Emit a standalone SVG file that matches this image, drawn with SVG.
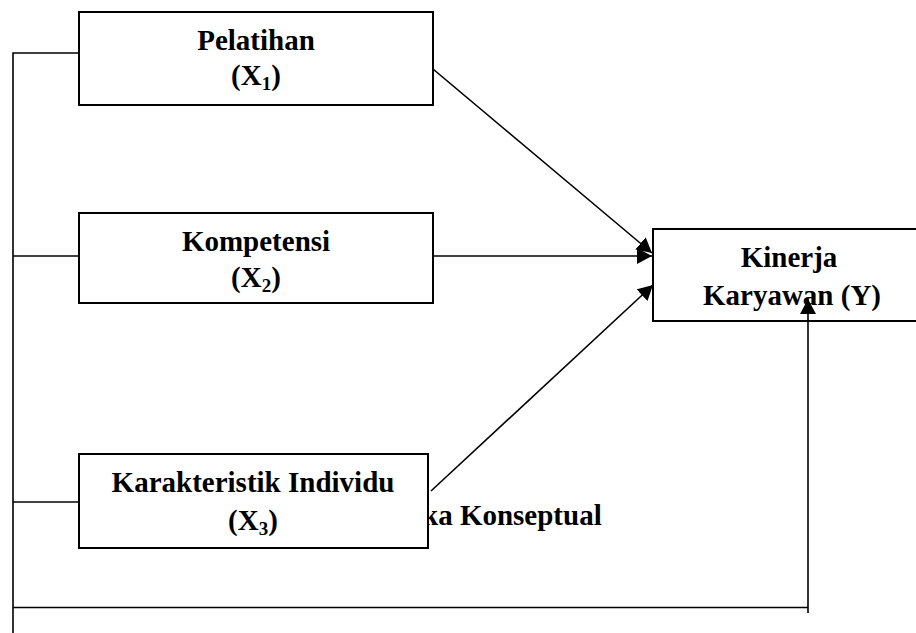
<svg xmlns="http://www.w3.org/2000/svg" width="916" height="633" viewBox="0 0 916 633">
<defs>
<style>
.box{fill:#fff;stroke:#000;stroke-width:2}
.ln{fill:none;stroke:#000;stroke-width:1.6}
.t{font-family:"Liberation Serif","Times New Roman",serif;font-weight:bold;font-size:29px;fill:#000;text-anchor:middle}
.c{font-family:"Liberation Serif","Times New Roman",serif;font-weight:bold;font-size:29px;fill:#000}
.sub{font-size:19px}
</style>
<marker id="ah" markerUnits="userSpaceOnUse" markerWidth="16" markerHeight="16" refX="15" refY="8" orient="auto">
<path d="M0,0 L15,8 L0,16 Z" fill="#000"/>
</marker>
</defs>
<rect width="916" height="633" fill="#fff"/>
<text class="c" x="422" y="525">ka Konseptual</text>
<g id="connectors">
<polyline class="ln" points="79,53 13,53 13,633"/>
<line class="ln" x1="13" y1="256" x2="79" y2="256"/>
<line class="ln" x1="13" y1="502" x2="79" y2="502"/>
<polyline class="ln" points="13,607.5 808,607.5"/>
<line class="ln" x1="433" y1="69" x2="652" y2="253" marker-end="url(#ah)"/>
<line class="ln" x1="433" y1="256" x2="652" y2="256" marker-end="url(#ah)"/>
<line class="ln" x1="431" y1="491" x2="653" y2="285" marker-end="url(#ah)"/>
</g>
<g id="node-pelatihan">
<rect class="box" x="79" y="12" width="354" height="93"/>
<text class="t" x="256" y="50">Pelatihan</text>
<text class="t" x="256" y="85">(X<tspan class="sub" dy="5">1</tspan><tspan dy="-5">)</tspan></text>
</g>
<g id="node-kompetensi">
<rect class="box" x="79" y="213" width="354" height="90"/>
<text class="t" x="256" y="251">Kompetensi</text>
<text class="t" x="256" y="287">(X<tspan class="sub" dy="5">2</tspan><tspan dy="-5">)</tspan></text>
</g>
<g id="node-karakteristik">
<rect class="box" x="79" y="454" width="349" height="94"/>
<text class="t" x="253" y="492">Karakteristik Individu</text>
<text class="t" x="253" y="530">(X<tspan class="sub" dy="5">3</tspan><tspan dy="-5">)</tspan></text>
</g>
<g id="node-kinerja">
<rect class="box" x="653" y="229" width="280" height="92"/>
<text class="t" x="789" y="267">Kinerja</text>
<text class="t" x="792" y="305">Karyawan (Y)</text>
</g>
<g id="connector-feedback">
<line class="ln" x1="808" y1="613" x2="808" y2="299" marker-end="url(#ah)"/>
</g>
</svg>
